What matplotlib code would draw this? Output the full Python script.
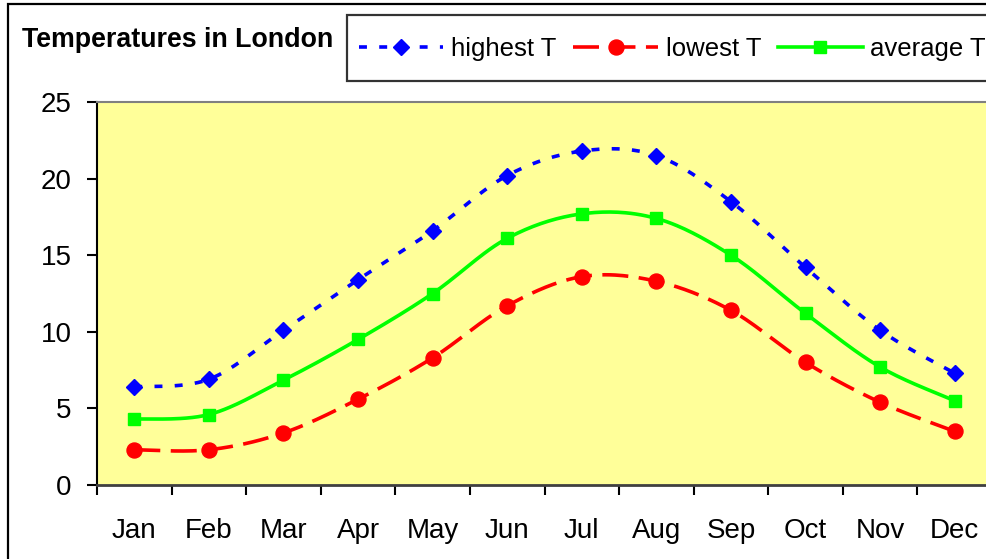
import numpy as np
import matplotlib
matplotlib.use("Agg")
import matplotlib.pyplot as plt
from matplotlib.lines import Line2D
from matplotlib.patches import Rectangle
from matplotlib.legend_handler import HandlerLine2D

months = ["Jan", "Feb", "Mar", "Apr", "May", "Jun", "Jul", "Aug", "Sep", "Oct", "Nov", "Dec"]
highest = [6.4, 6.9, 10.1, 13.4, 16.6, 20.2, 21.8, 21.5, 18.5, 14.2, 10.1, 7.3]
lowest = [2.3, 2.3, 3.4, 5.6, 8.3, 11.7, 13.6, 13.3, 11.4, 8.0, 5.4, 3.5]
average = [4.3, 4.6, 6.85, 9.5, 12.5, 16.1, 17.7, 17.4, 15.0, 11.2, 7.7, 5.5]

plt.rcParams['font.family'] = ['Liberation Sans', 'DejaVu Sans']

W, H = 986, 559
fig = plt.figure(figsize=(W / 100, H / 100), dpi=100)
fig.patch.set_facecolor("white")


def smooth(x, y, n=30):
    """Excel-style smoothed (Bezier / Catmull-Rom) curve through the points."""
    x = np.asarray(x, float)
    y = np.asarray(y, float)
    px = np.concatenate([[x[0]], x, [x[-1]]])
    py = np.concatenate([[y[0]], y, [y[-1]]])
    xs, ys = [], []
    t = np.linspace(0, 1, n)
    for i in range(1, len(px) - 2):
        p0 = np.array([px[i], py[i]])
        p3 = np.array([px[i + 1], py[i + 1]])
        p1 = p0 + (np.array([px[i + 1], py[i + 1]]) - np.array([px[i - 1], py[i - 1]])) / 6
        p2 = p3 - (np.array([px[i + 2], py[i + 2]]) - np.array([px[i], py[i]])) / 6
        b = ((1 - t) ** 3)[:, None] * p0 + (3 * (1 - t) ** 2 * t)[:, None] * p1 \
            + (3 * (1 - t) * t ** 2)[:, None] * p2 + (t ** 3)[:, None] * p3
        xs.append(b[:, 0] if i == 1 else b[1:, 0])
        ys.append(b[:, 1] if i == 1 else b[1:, 1])
    return np.concatenate(xs), np.concatenate(ys)


class LoweredHandler(HandlerLine2D):
    def create_artists(self, legend, orig_handle, xdescent, ydescent, width, height,
                       fontsize, trans):
        return super().create_artists(legend, orig_handle, xdescent, ydescent + 8.6,
                                      width, height, fontsize, trans)


left, right, top, bottom = 97, 992, 102, 485
ax = fig.add_axes([left / W, 1 - bottom / H, (right - left) / W, (bottom - top) / H])
ax.set_facecolor("#FFFF99")

x = np.arange(len(months))
lw = 2.6
series = [
    (highest, "#0000FF", "D", 8.4, (2.2, 3.4), "highest T"),
    (lowest, "#FF0000", "o", 10.8, (7.2, 2.9), "lowest T"),
    (average, "#00FF00", "s", 8.8, None, "average T"),
]
handles = []
for vals, col, mk, ms, dash, lab in series:
    sx, sy = smooth(x, vals)
    ln, = ax.plot(sx, sy, color=col, lw=lw, solid_capstyle="butt", dash_capstyle="butt")
    if dash:
        ln.set_dashes(dash)
    ax.plot(x, vals, linestyle="none", marker=mk, markersize=ms, color=col,
            markeredgecolor=col)
    h = Line2D([], [], color=col, lw=lw, marker=mk, markersize=ms, markeredgecolor=col)
    if dash:
        h.set_dashes(dash)
    handles.append(h)

ax.set_xlim(-0.5, len(months) - 0.5)
ax.set_ylim(0, 25)
ax.set_yticks([0, 5, 10, 15, 20, 25])
ax.set_xticks(x)
ax.set_xticklabels(months)
ax.set_xticks(np.arange(-0.5, len(months), 1.0), minor=True)
ax.tick_params(axis="x", which="major", length=0, pad=24, labelsize=20)
ax.tick_params(axis="x", which="minor", length=10 * 0.72, width=1.5, direction="out", color="black")
ax.tick_params(axis="y", length=10 * 0.72, width=1.5, direction="out", pad=11, labelsize=20,
               color="black")

ax.spines["left"].set_color("black")
ax.spines["left"].set_linewidth(1.5)
ax.spines["bottom"].set_color("#404040")
ax.spines["bottom"].set_linewidth(2)
ax.spines["top"].set_color("#808080")
ax.spines["top"].set_linewidth(1.5)
ax.spines["right"].set_color("#808080")

# chart border (left and top edges visible)
fig.add_artist(Rectangle((7.5 / W, -0.1), 1.2, 1 - 4.5 / H + 0.1, transform=fig.transFigure,
                         fill=False, edgecolor="black", lw=1.6))

fig.text(22 / W, 1 - 46.7 / H, "Temperatures in London", fontsize=19.3, fontweight="bold",
         ha="left", va="baseline")

leg = fig.legend(handles, [s[5] for s in series], ncol=3, loc="upper left",
                 bbox_to_anchor=(347 / W, 1 - 15 / H), borderaxespad=0, frameon=True,
                 fancybox=False, edgecolor="black", fontsize=18.5, handlelength=3.3,
                 handletextpad=0.3, columnspacing=0.65, borderpad=0.45, handleheight=2.2,
                 numpoints=1, handler_map={Line2D: LoweredHandler()})
leg.get_frame().set_linewidth(1.6)

fig.savefig("out.png", dpi=100)
